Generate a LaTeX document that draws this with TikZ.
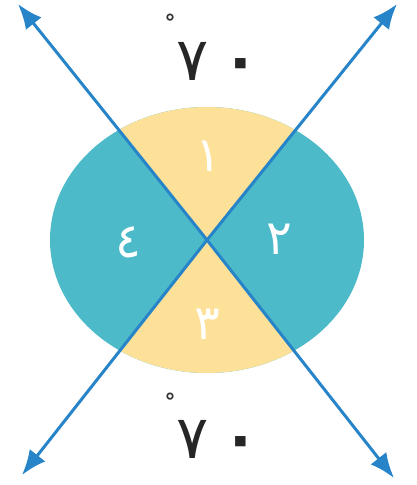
\documentclass[tikz,border=0pt]{standalone}
\usepackage{fontspec}
\TeXXeTstate=1
\newfontfamily\arabicfont[Script=Arabic]{DejaVu Sans}
\usetikzlibrary{arrows.meta}
\definecolor{tealc}{RGB}{76,186,200}
\definecolor{yellowc}{RGB}{253,225,152}
\definecolor{linec}{RGB}{40,132,200}
\tikzset{
  ray/.style={draw=linec, line width=3pt, -{Latex[length=25pt,width=20pt]}},
  wdigit/.style={text=white, font=\arabicfont\fontsize{48}{54}\selectfont, inner sep=0pt},
  bdigit/.style={text=black!85, font=\arabicfont\fontsize{60}{66}\selectfont, inner sep=0pt},
  deg/.style={text=black!80, font=\arabicfont\bfseries\fontsize{22}{26}\selectfont, inner sep=0pt}
}
\newcommand{\seventy}{\beginR\beginL ٧\hspace{14pt}{\bfseries ٠}\endL\endR}
\begin{document}
\begin{tikzpicture}[x=1pt,y=-1pt]
\useasboundingbox (0,0) rectangle (416,485);
\coordinate (O) at (207,240);
\coordinate (TL) at (18,4);
\coordinate (TR) at (397,4);
\coordinate (BL) at (22,475);
\coordinate (BR) at (394,478);
% ellipse and sectors
\fill[tealc] (O) ellipse [x radius=157, y radius=133];
\begin{scope}
  \clip (O) ellipse [x radius=157, y radius=133];
  \fill[yellowc] (O) -- (TL) -- (TR) -- cycle;
  \fill[yellowc] (O) -- (BL) -- (BR) -- cycle;
\end{scope}
% rays
\draw[ray] (O) -- (TL);
\draw[ray] (O) -- (TR);
\draw[ray] (O) -- (BL);
\draw[ray] (O) -- (BR);
% sector numbers
\node[wdigit] (n1) at (208,156) {\beginR ١\endR};
\node[wdigit] (n2) at (279,239) {\beginR ٢\endR};
\node[wdigit] (n3) at (207,324) {\beginR ٣\endR};
\node[wdigit] (n4) at (128,242) {\beginR ٤\endR};
% angle labels
\node[bdigit] (a1) at (218,61) {\seventy};
\node[deg] (d1) at (170,22) {°};
\node[bdigit] (a2) at (218,439) {\seventy};
\node[deg] (d2) at (170,401) {°};
\end{tikzpicture}
\end{document}
